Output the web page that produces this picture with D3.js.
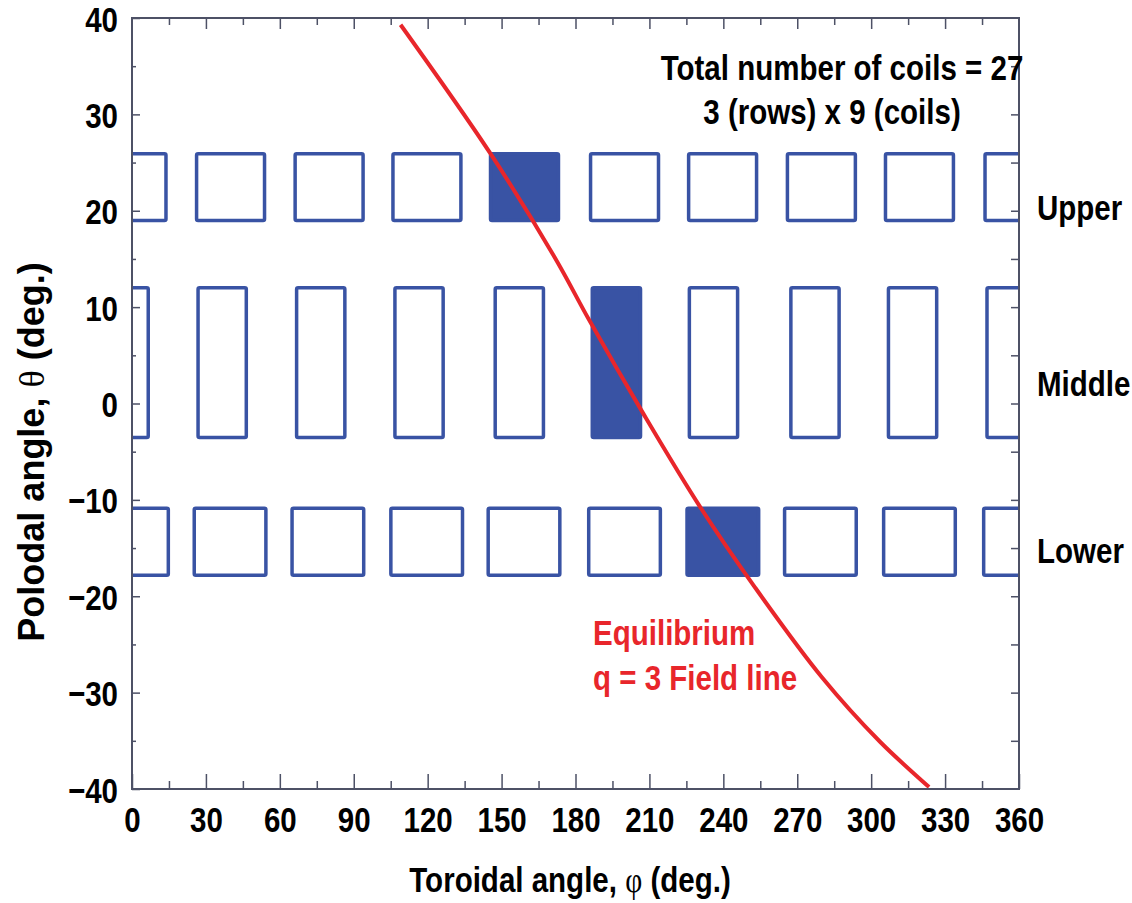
<!DOCTYPE html>
<html>
<head>
<meta charset="utf-8">
<script src="https://cdn.jsdelivr.net/npm/d3@7"></script>
<style>
  body { margin: 0; background: #fff; }
  svg text { font-family: "Liberation Sans", Arial, sans-serif; font-weight: bold; }
</style>
</head>
<body>
<script>
'use strict';

// coil rows: name, theta range (deg), coil width in phi (deg)
var rowNames = ["Upper", "Middle", "Lower"];
var rowTheta = [[18.8, 26.1], [-3.7, 12.2], [-18.0, -10.7]];
var rowWidth = [29.0, 21.0, 30.5];

// phi centres of the 9 coils in each row
var upperCenters = [0, 40, 80, 119.7, 159.3, 199.9, 239.7, 279.8, 319.6];
var middleCenters = [36.6, 76.6, 116.5, 157.2, 196.6, 236.0, 277.2, 316.8, 356.8];
var lowerCenters = [0.2, 39.8, 79.5, 119.6, 159.1, 199.9, 239.8, 279.4, 319.6];
// index of the energised (filled) coil in each row
var filledIndex = [4, 4, 6];

// q = 3 field line, [phi, theta]
var fieldLine = [[109, 39.3], [145.3, 26], [171.7, 15.1], [185.9, 8.5], [207.4, -1],
                 [230.5, -10.7], [252.9, -19.1], [280, -28.4], [303.6, -35.1], [323.5, -39.8]];

var phiTicks = [0, 30, 60, 90, 120, 150, 180, 210, 240, 270, 300, 330, 360];
var thetaTicks = [-40, -30, -20, -10, 0, 10, 20, 30, 40];

var chart = {};
chart.left = 132;
chart.right = 1019;
chart.top = 18;
chart.bottom = 789;
chart.blue = "#3953a4";
chart.red = "#e8262b";
chart.axis = "#4d5166";
chart.squeeze = 0.82;   // condensed look of the original font

chart.x = d3.scaleLinear().domain([0, 360]).range([chart.left, chart.right]);
chart.y = d3.scaleLinear().domain([-40, 40]).range([chart.bottom, chart.top]);

chart.svg = d3.select("body").append("svg")
    .attr("width", 1132)
    .attr("height", 903);

chart.svg.append("defs").append("clipPath")
    .attr("id", "plot-clip")
    .append("rect")
    .attr("x", chart.left)
    .attr("y", chart.top)
    .attr("width", chart.right - chart.left)
    .attr("height", chart.bottom - chart.top);

// text placed at (x, y) and squeezed horizontally
chart.label = function(parent, x, y, anchor){
    return parent.append("text")
        .attr("transform", "translate(" + x + "," + y + ") scale(" + chart.squeeze + ",1)")
        .attr("text-anchor", anchor || "start")
        .attr("font-size", 36)
        .attr("fill", "#000");
}

chart.drawCoils = function(){
    var x = chart.x, y = chart.y;
    var allCenters = [upperCenters, middleCenters, lowerCenters];
    var coils = [];
    allCenters.forEach(function(centers, r){
        centers.forEach(function(c, i){
            [-360, 0, 360].forEach(function(shift){
                coils.push({row: r, phi: c + shift, filled: i === filledIndex[r]});
            });
        });
    });

    var g = chart.svg.append("g").attr("clip-path", "url(#plot-clip)");
    g.selectAll("rect.coil")
        .data(coils)
        .enter()
        .append("rect")
        .classed("coil", true)
        .attr("x", function(d){ return x(d.phi - rowWidth[d.row] / 2) + 1.75; })
        .attr("y", function(d){ return y(rowTheta[d.row][1]) + 1.75; })
        .attr("width", function(d){ return x(rowWidth[d.row]) - x(0) - 3.5; })
        .attr("height", function(d){ return y(rowTheta[d.row][0]) - y(rowTheta[d.row][1]) - 3.5; })
        .attr("rx", 1.5)
        .attr("fill", function(d){ return d.filled ? chart.blue : "none"; })
        .attr("stroke", chart.blue)
        .attr("stroke-width", 3.5);
}

chart.drawFieldLine = function(){
    var line = d3.line()
        .x(function(d){ return chart.x(d[0]); })
        .y(function(d){ return chart.y(d[1]); })
        .curve(d3.curveCatmullRom);
    chart.svg.append("path")
        .datum(fieldLine)
        .attr("d", line)
        .attr("fill", "none")
        .attr("stroke", chart.red)
        .attr("stroke-width", 4);
}

chart.drawAxes = function(){
    var x = chart.x, y = chart.y;
    var minorPhi = d3.range(15, 360, 30);
    var minorTheta = d3.range(-35, 40, 10);
    var allTheta = d3.range(-35, 40, 5);

    var addAxis = function(axis, tx, ty){
        var g = chart.svg.append("g")
            .attr("transform", "translate(" + tx + "," + ty + ")")
            .call(axis);
        g.select(".domain").remove();
        g.selectAll(".tick line").attr("stroke", chart.axis).attr("stroke-width", 1.5);
        return g;
    }

    // bottom: labelled majors + minors
    var bottom = addAxis(d3.axisBottom(x).tickValues(phiTicks).tickSizeInner(-15).tickSizeOuter(0)
        .tickFormat(""), 0, chart.bottom);
    bottom.selectAll(".tick").each(function(d){
        chart.label(d3.select(this), 0, 43, "middle").text(d);
    });
    addAxis(d3.axisBottom(x).tickValues(minorPhi).tickSizeInner(-8).tickSizeOuter(0).tickFormat(""), 0, chart.bottom);

    // top
    addAxis(d3.axisTop(x).tickValues(phiTicks.slice(1, -1)).tickSizeInner(-11).tickSizeOuter(0).tickFormat(""), 0, chart.top);
    addAxis(d3.axisTop(x).tickValues(minorPhi).tickSizeInner(-7).tickSizeOuter(0).tickFormat(""), 0, chart.top);

    // left
    var left = addAxis(d3.axisLeft(y).tickValues(thetaTicks).tickSizeInner(-8).tickSizeOuter(0)
        .tickFormat(""), chart.left, 0);
    left.selectAll(".tick").each(function(d){
        chart.label(d3.select(this), -14, 13, "end").text(d < 0 ? "\u2212" + (-d) : d);
    });
    addAxis(d3.axisLeft(y).tickValues(minorTheta).tickSizeInner(-4).tickSizeOuter(0).tickFormat(""), chart.left, 0);

    // right
    addAxis(d3.axisRight(y).tickValues(allTheta).tickSizeInner(-8).tickSizeOuter(0).tickFormat(""), chart.right, 0);

    // frame
    chart.svg.append("rect")
        .attr("x", chart.left)
        .attr("y", chart.top)
        .attr("width", chart.right - chart.left)
        .attr("height", chart.bottom - chart.top)
        .attr("fill", "none")
        .attr("stroke", chart.axis)
        .attr("stroke-width", 2);
}

chart.drawText = function(){
    var svg = chart.svg;

    var xt = chart.label(svg, 570, 892, "middle");
    xt.append("tspan").text("Toroidal angle, ");
    xt.append("tspan").text("\u03c6").style("font-family", "'Liberation Serif', serif").style("font-weight", "normal");
    xt.append("tspan").text(" (deg.)");

    var yt = svg.append("text")
        .attr("transform", "translate(44,452) rotate(-90)")
        .attr("text-anchor", "middle")
        .attr("font-size", 36);
    yt.append("tspan").text("Polodal angle, ");
    yt.append("tspan").text("\u03b8").style("font-family", "'Liberation Serif', serif").style("font-weight", "normal");
    yt.append("tspan").text(" (deg.)");

    chart.label(svg, 842, 80, "middle").text("Total number of coils = 27");
    chart.label(svg, 832, 124, "middle").text("3 (rows) x 9 (coils)");

    var rowBaselines = [220, 396, 563];
    rowNames.forEach(function(name, i){
        chart.label(svg, 1037, rowBaselines[i]).text(name);
    });

    chart.label(svg, 593, 645).attr("fill", chart.red).text("Equilibrium");
    chart.label(svg, 593, 690).attr("fill", chart.red).text("q = 3 Field line");
}

chart.run = function(){
    chart.drawCoils();
    chart.drawFieldLine();
    chart.drawAxes();
    chart.drawText();
}

chart.run();
</script>
</body>
</html>
